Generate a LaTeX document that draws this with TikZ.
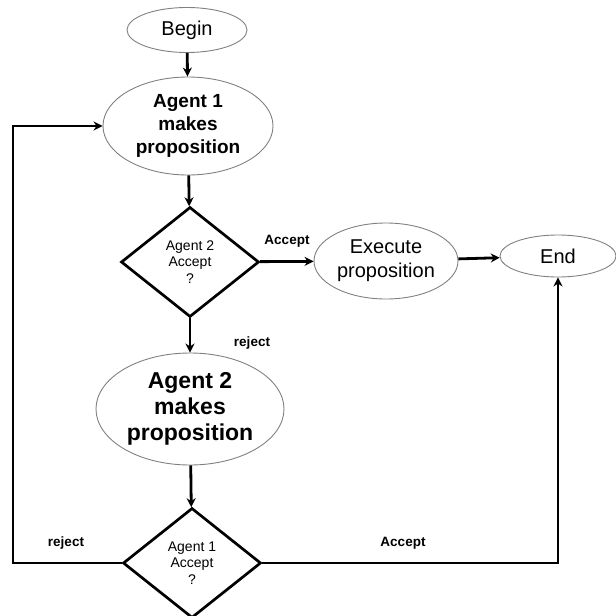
\documentclass[tikz,border=0pt]{standalone}
\usepackage{fontspec}
\setmainfont{Liberation Sans}
\usepackage{tikz}
\usetikzlibrary{arrows.meta,shapes.geometric}

\begin{document}
\begin{tikzpicture}[x=1pt,y=-1pt]
\useasboundingbox (0,0) rectangle (616,616);
\begin{scope}[every node/.style={ellipse,draw=gray,line width=0.9pt,inner sep=0pt,align=center}]
    \node[minimum width=120pt,minimum height=45pt,font=\fontsize{20}{23}\selectfont] (begin) at (187,30) {Begin};
    \node[minimum width=170pt,minimum height=98pt,font=\fontsize{19}{23}\selectfont\bfseries] (a1) at (188,126) {Agent 1\\makes\\proposition};
    \node[minimum width=144pt,minimum height=76pt,font=\fontsize{20}{24}\selectfont] (exec) at (386,261) {Execute\\proposition};
    \node[minimum width=116pt,minimum height=42pt,font=\fontsize{20}{23}\selectfont] (end) at (558,256) {End};
    \node[minimum width=188pt,minimum height=112pt,font=\fontsize{23}{26}\selectfont\bfseries] (a2) at (190,409) {Agent 2\\makes\\proposition};
\end{scope}

\begin{scope}[every node/.style={diamond,draw=black,line width=2.7pt,inner sep=0pt,align=center,
              minimum width=138pt,minimum height=110pt,font=\fontsize{14}{16.5}\selectfont}]
    \node (d2) at (190,262) {Agent 2\\Accept\\?};
    \node (d1) at (192,563) {Agent 1\\Accept\\?};
\end{scope}

\begin{scope}[every node/.style={font=\fontsize{13.5}{15}\selectfont\bfseries}]
    \node (acc1) at (287,241) {Accept};
    \node (rej1) at (252,343) {reject};
    \node (rej2) at (66,543) {reject};
    \node (acc2) at (403,543) {Accept};
\end{scope}

\coordinate (lc) at (13,563);

\begin{scope}[>={Stealth[length=9pt,width=9pt]},
              every edge/.style={draw=black,line width=2.8pt}]
    \path [->] (begin) edge (a1);
    \path [->] (a1) edge (d2);
    \path [->] (d2) edge (exec);
    \path [->] (exec) edge (end);
    \path [->] (d2) edge (a2);
    \path [->] (a2) edge (d1);
    \draw [->,line width=2.8pt] (d1.west) -- (lc) |- (a1.west);
    \draw [->,line width=2.8pt] (d1.east) -| (end.south);
\end{scope}
\end{tikzpicture}
\end{document}
